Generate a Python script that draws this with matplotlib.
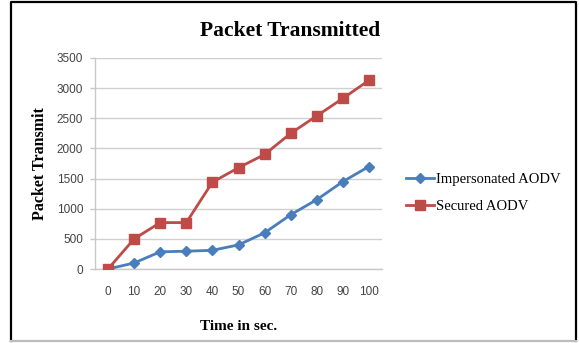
import matplotlib
matplotlib.use("Agg")
import matplotlib.pyplot as plt
from matplotlib.lines import Line2D

time_sec = [0, 10, 20, 30, 40, 50, 60, 70, 80, 90, 100]
impersonated = [0, 100, 285, 295, 310, 400, 600, 900, 1150, 1450, 1700]
secured = [0, 500, 770, 770, 1440, 1680, 1900, 2250, 2540, 2830, 3130]
y_ticks = [0, 500, 1000, 1500, 2000, 2500, 3000, 3500]

C_BLUE = "#4A7EBB"
C_RED = "#BE4B48"
C_AXIS = "#c8c8c8"
SERIF = "Liberation Serif"
SANS = "Liberation Sans"

fig = plt.figure(figsize=(5.79, 3.43), dpi=100)
ax = fig.add_axes([95 / 579, 1 - 269 / 343, 287 / 579, 211 / 343])

# outer chart frame: black on three sides, light grey at the bottom
x0, x1 = 11 / 579, 576 / 579
y0, y1 = 1 - 341 / 343, 1 - 2 / 343
fig.lines.append(Line2D([x0, x0, x1, x1], [y0, y1, y1, y0], transform=fig.transFigure,
                        color="black", linewidth=1.6))
fig.lines.append(Line2D([x0, x1], [y0, y0], transform=fig.transFigure,
                        color="#bdbdbd", linewidth=1.6))

ax.plot(time_sec, impersonated, color=C_BLUE, linewidth=2.0, marker="D",
        markersize=5, label="Impersonated AODV", zorder=3)
ax.plot(time_sec, secured, color=C_RED, linewidth=2.0, marker="s",
        markersize=7, label="Secured AODV", zorder=3)

ax.set_xlim(-5, 105)
ax.set_ylim(0, 3500)
ax.set_xticks(time_sec)
ax.set_yticks(y_ticks)
ax.set_xticklabels([str(t) for t in time_sec], fontfamily=SANS, fontsize=8.5, color="#444444")
ax.set_yticklabels([str(t) for t in y_ticks], fontfamily=SANS, fontsize=8.5, color="#444444")
ax.tick_params(axis="y", length=3.5, width=1.0, color=C_AXIS, pad=5)
ax.tick_params(axis="x", length=0, pad=12)
ax.grid(axis="y", color="#d0d0d0", linewidth=1.0)
ax.set_axisbelow(True)
for s in ["top", "right"]:
    ax.spines[s].set_visible(False)
for s in ["bottom", "left"]:
    ax.spines[s].set_color(C_AXIS)
    ax.spines[s].set_linewidth(1.0)

ax.set_ylabel("Packet Transmit", fontfamily=SERIF, fontweight="bold", fontsize=11.5, labelpad=6)
ax.set_xlabel("Time in sec.", fontfamily=SERIF, fontweight="bold", fontsize=11, labelpad=16)
fig.text(290 / 579, 1 - 31 / 343, "Packet Transmitted", fontfamily=SERIF,
         fontweight="bold", fontsize=15.5, ha="center", va="center")

leg = ax.legend(loc="center left", bbox_to_anchor=(393 / 579, 1 - 193 / 343),
                bbox_transform=fig.transFigure, frameon=False,
                prop={"family": SERIF, "size": 10.5}, handlelength=1.9,
                handletextpad=0.15, labelspacing=0.9)

fig.savefig("out.png", dpi=100)
